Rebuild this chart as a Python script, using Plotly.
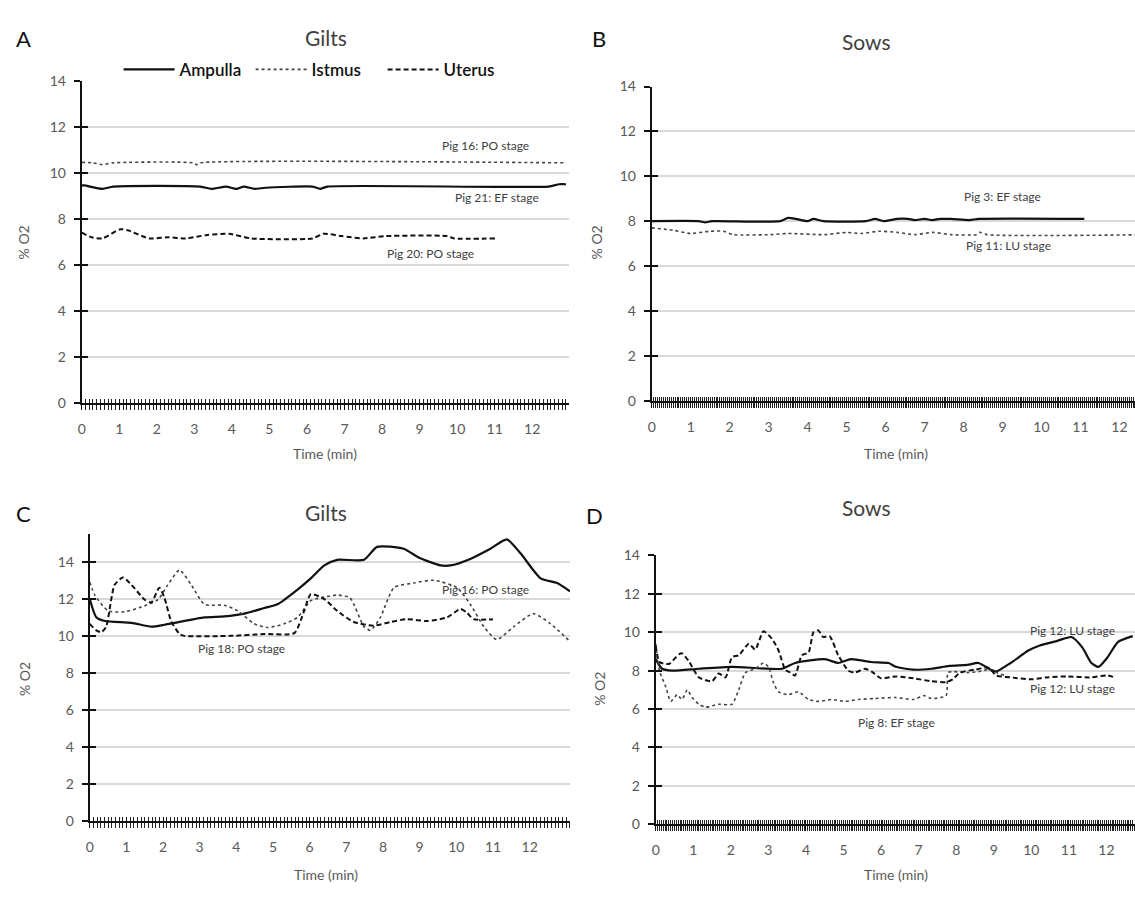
import plotly.graph_objects as go

# ---------------- data (time in min, % O2) ----------------
# A - Gilts
a_amp_t = [0, 0.07, 0.55, 0.84, 3.16, 3.45, 3.84, 4.12, 4.32, 4.6, 4.9, 6.15, 6.35, 6.54, 12.43, 12.72, 12.9]
a_amp_v = [9.45, 9.45, 9.3, 9.4, 9.4, 9.3, 9.4, 9.3, 9.4, 9.3, 9.35, 9.4, 9.3, 9.4, 9.4, 9.5, 9.5]
a_ist_t = [0, 0.3, 0.55, 0.84, 2.97, 3.06, 3.16, 12.9]
a_ist_v = [10.45, 10.43, 10.35, 10.43, 10.43, 10.35, 10.43, 10.43]
a_ute_t = [0, 0.26, 0.55, 1.03, 1.23, 1.8, 2.29, 2.77, 3.35, 3.93, 4.51, 6.15, 6.44, 6.93, 7.5, 8.09, 9.73, 9.92, 11.03]
a_ute_v = [7.4, 7.2, 7.15, 7.55, 7.5, 7.15, 7.2, 7.15, 7.3, 7.35, 7.15, 7.15, 7.35, 7.25, 7.15, 7.25, 7.25, 7.15, 7.15]

# B - Sows
b_amp_t = [0, 1.2, 1.37, 1.55, 3.3, 3.5, 3.7, 4.0, 4.15, 4.4, 5.5, 5.73, 5.95, 6.3, 6.57, 6.75, 7.0, 7.2, 7.4, 7.68, 8.15, 8.4, 11.1]
b_amp_v = [8.0, 8.0, 7.95, 8.0, 8.0, 8.15, 8.1, 8.0, 8.1, 8.0, 8.0, 8.1, 8.0, 8.1, 8.1, 8.05, 8.1, 8.05, 8.1, 8.1, 8.05, 8.1, 8.1]
b_ist_t = [0, 0.54, 1.0, 1.47, 1.84, 2.1, 3.04, 3.5, 4.43, 5.0, 5.36, 5.83, 6.3, 6.75, 7.2, 7.68, 8.33, 8.42, 8.6, 12.9]
b_ist_v = [7.7, 7.6, 7.45, 7.55, 7.55, 7.4, 7.4, 7.45, 7.4, 7.5, 7.45, 7.55, 7.5, 7.4, 7.5, 7.4, 7.4, 7.5, 7.4, 7.4]

# C - Gilts
c_amp_t = [0, 0.18, 0.41, 1.14, 1.68, 2.04, 2.31, 3.13, 3.67, 4.22, 4.76, 5.12, 5.67, 6.03, 6.4, 6.75, 7.48, 7.84,
           8.56, 9.0, 9.57, 9.84, 10.38, 10.93, 11.38, 11.75, 12.3, 12.75, 13.1]
c_amp_v = [12.0, 11.0, 10.8, 10.7, 10.5, 10.6, 10.7, 11.0, 11.05, 11.2, 11.5, 11.7, 12.5, 13.1, 13.8, 14.1, 14.1, 14.8,
           14.7, 14.2, 13.8, 13.8, 14.15, 14.7, 15.2, 14.45, 13.1, 12.85, 12.4]
c_ist_t = [0, 0.14, 0.5, 0.95, 1.4, 1.86, 2.13, 2.45, 2.77, 3.13, 3.67, 4.04, 4.49, 4.85, 5.3, 5.67, 6.03, 6.3, 6.75,
           7.1, 7.48, 7.66, 7.93, 8.3, 8.84, 9.39, 10.02, 10.38, 10.75, 11.1, 11.57, 12.1, 12.57, 13.1]
c_ist_v = [12.9, 12.2, 11.35, 11.3, 11.55, 11.95, 12.75, 13.55, 12.75, 11.7, 11.65, 11.35, 10.65, 10.45, 10.65, 11.0,
           11.9, 12.05, 12.2, 12.05, 10.5, 10.3, 11.0, 12.6, 12.85, 13.0, 12.6, 11.7, 10.5, 9.8, 10.5, 11.2, 10.65, 9.7]
c_ute_t = [0, 0.18, 0.32, 0.45, 0.68, 0.91, 1.14, 1.5, 1.68, 1.9, 2.04, 2.22, 2.45, 2.58, 3.85, 4.76, 5.58, 5.85, 6.03,
           6.39, 6.75, 7.2, 7.75, 8.2, 8.66, 9.2, 9.75, 10.11, 10.29, 10.47, 11.0]
c_ute_v = [10.65, 10.3, 10.2, 10.5, 12.75, 13.15, 12.75, 11.95, 11.8, 12.6, 12.05, 10.8, 10.1, 10.0, 10.0, 10.1, 10.15,
           11.35, 12.25, 12.0, 11.35, 10.75, 10.55, 10.75, 10.9, 10.8, 11.0, 11.45, 11.25, 10.9, 10.9]

# D - Sows
d_amp_t = [0, 0.17, 0.44, 1.15, 2.03, 3.36, 3.71, 4.5, 4.86, 5.2, 5.73, 6.2, 6.39, 6.86, 7.34, 7.82, 8.3, 8.59, 8.92,
           9.06, 9.45, 9.92, 10.21, 10.69, 11.07, 11.36, 11.6, 11.79, 12.03, 12.31, 12.7]
d_amp_v = [8.6, 8.1, 8.0, 8.1, 8.2, 8.1, 8.4, 8.6, 8.4, 8.6, 8.45, 8.4, 8.2, 8.05, 8.1, 8.25, 8.3, 8.4, 8.05, 7.95,
           8.4, 9.05, 9.3, 9.55, 9.75, 9.2, 8.4, 8.2, 8.7, 9.5, 9.8]
d_ist_t = [0, 0.1, 0.27, 0.4, 0.57, 0.7, 0.84, 0.97, 1.15, 1.33, 1.68, 2.03, 2.21, 2.39, 2.65, 2.87, 3.0, 3.14, 3.27,
           3.53, 3.8, 4.07, 4.33, 4.68, 5.04, 5.4, 5.84, 6.39, 6.86, 7.15, 7.34, 7.73, 7.78, 7.91, 8.3, 8.59, 8.87,
           9.06, 9.3]
d_ist_v = [9.4, 8.0, 7.15, 6.4, 6.75, 6.5, 7.0, 6.6, 6.25, 6.1, 6.25, 6.25, 7.0, 7.9, 8.1, 8.4, 8.2, 7.35, 6.9, 6.75,
           6.9, 6.5, 6.4, 6.5, 6.4, 6.5, 6.55, 6.6, 6.5, 6.7, 6.55, 6.7, 7.9, 7.95, 7.9, 7.95, 8.05, 7.9, 7.75]
d_ute_t = [0, 0.1, 0.35, 0.62, 0.7, 0.88, 1.15, 1.5, 1.68, 1.86, 2.03, 2.21, 2.48, 2.65, 2.87, 3.1, 3.27, 3.45, 3.58,
           3.71, 3.89, 4.07, 4.2, 4.33, 4.46, 4.63, 4.86, 5.13, 5.3, 5.57, 5.75, 6.0, 6.39, 6.86, 7.34, 7.73, 7.91,
           8.1, 8.49, 8.87, 9.06, 9.45, 10.02, 10.4, 10.97, 11.55, 12.03, 12.22]
d_ute_v = [9.3, 8.45, 8.35, 8.85, 8.9, 8.5, 7.65, 7.45, 7.85, 7.65, 8.7, 8.8, 9.4, 9.1, 10.05, 9.65, 9.05, 8.05, 7.9,
           7.75, 8.8, 8.95, 10.0, 10.1, 9.75, 9.8, 8.8, 8.0, 7.9, 8.1, 7.95, 7.6, 7.7, 7.6, 7.45, 7.4, 7.55, 7.9,
           8.05, 8.15, 7.75, 7.65, 7.55, 7.65, 7.7, 7.65, 7.75, 7.65]

x_ticks = list(range(13))
y_ticks = list(range(0, 15, 2))
series_names = ["Ampulla", "Istmus", "Uterus"]

# pig / stage labels: (panel, time, %O2, text)
pig_labels = [
    (1, 10.75, 11.2, "Pig 16: PO stage"),
    (1, 11.05, 8.93, "Pig 21: EF stage"),
    (1, 9.3, 6.48, "Pig 20: PO stage"),
    (2, 9.0, 9.1, "Pig 3: EF stage"),
    (2, 9.15, 6.9, "Pig 11: LU stage"),
    (3, 10.26, 15.6, "Pig 23: PO stage"),
    (3, 10.8, 12.5, "Pig 16: PO stage"),
    (3, 4.13, 9.3, "Pig 18: PO stage"),
    (4, 11.1, 10.1, "Pig 12: LU stage"),
    (4, 11.1, 7.05, "Pig 12: LU stage"),
    (4, 6.42, 5.3, "Pig 8: EF stage"),
]

# ---------------- layout geometry ----------------
W, H = 1135, 898
FONT = "Lato"
TICK_GREY = "#595959"

# pixel frame of each panel: left, right, y of 0, y of top, x max, y max, minor tick step
panels = [
    dict(l=78, r=567, b=401.7, t=73, xmax=12.98, ymax=14, minor=0.1),
    dict(l=650, r=W, b=399.3, t=79, xmax=12.4, ymax=14, minor=0.05),
    dict(l=86, r=568, b=828, t=535, xmax=13.1, ymax=15.5, minor=0.1),
    dict(l=654, r=W, b=831, t=557, xmax=12.76, ymax=14, minor=0.05),
]

panel_series = [
    [(a_amp_t, a_amp_v), (a_ist_t, a_ist_v), (a_ute_t, a_ute_v)],
    [(b_amp_t, b_amp_v), (b_ist_t, b_ist_v)],
    [(c_amp_t, c_amp_v), (c_ist_t, c_ist_v), (c_ute_t, c_ute_v)],
    [(d_amp_t, d_amp_v), (d_ist_t, d_ist_v), (d_ute_t, d_ute_v)],
]

line_styles = [
    dict(color="#111111", width=2.2, dash="solid"),
    dict(color="#444444", width=1.6, dash="dot"),
    dict(color="#111111", width=2.0, dash="5px,3px"),
]

fig = go.Figure()
layout = dict(
    width=W, height=H,
    margin=dict(l=0, r=0, t=0, b=0),
    paper_bgcolor="white", plot_bgcolor="white",
    font=dict(family=FONT, color="#404040"),
    showlegend=True,
    legend=dict(orientation="h", x=115 / W, y=1 - 62 / H, xanchor="left", yanchor="middle",
                font=dict(family=FONT, size=17, color="#111111", weight=600),
                itemwidth=51, entrywidth=66, entrywidthmode="pixels",
                bgcolor="rgba(0,0,0,0)", tracegroupgap=0),
)

for i, (p, series) in enumerate(zip(panels, panel_series), start=1):
    xd = [p["l"] / W, p["r"] / W]
    yd = [1 - p["b"] / H, 1 - p["t"] / H]
    xs, ys = ("" if i == 1 else str(i)), ("" if i == 1 else str(i))
    xo, yo = str(i + 4), str(i + 4)

    for k, (t, v) in enumerate(series):
        fig.add_trace(go.Scatter(
            x=t, y=v, mode="lines", name=series_names[k],
            line=dict(shape="spline", smoothing=0.6, **line_styles[k]),
            xaxis="x" + xs, yaxis="y" + ys,
            showlegend=(i == 1), hoverinfo="skip"))
    # carrier for the inner half of the crossing tick marks
    fig.add_trace(go.Scatter(x=[None], y=[None], xaxis="x" + xo, yaxis="y" + yo,
                             showlegend=False, hoverinfo="skip"))

    common_x = dict(range=[0, p["xmax"]], tickvals=x_ticks, ticktext=[str(v) for v in x_ticks],
                    zeroline=False, showgrid=False, fixedrange=True)
    common_y = dict(range=[0, p["ymax"]], tickvals=y_ticks, zeroline=False, fixedrange=True)

    layout["xaxis" + xs] = dict(
        domain=xd, anchor="y" + ys, showline=True, linecolor="#111111", linewidth=2,
        ticks="outside", ticklen=5, tickwidth=1.2, tickcolor="#111111",
        minor=dict(dtick=p["minor"], tick0=0, ticks="outside", ticklen=5, tickwidth=1, tickcolor="#222222"),
        tickfont=dict(family=FONT, size=14, color=TICK_GREY), ticklabelstandoff=7, **common_x)
    layout["yaxis" + ys] = dict(
        domain=yd, anchor="x" + xs, showline=True, linecolor="#111111", linewidth=2,
        ticks="outside", ticklen=6, tickwidth=2, tickcolor="#111111",
        showgrid=True, gridcolor="#d9d9d9", gridwidth=1.6,
        tickfont=dict(family=FONT, size=14, color=TICK_GREY), ticklabelstandoff=5, **common_y)
    layout["xaxis" + xo] = dict(
        overlaying="x" + xs, anchor="y" + yo, showline=False, showticklabels=False,
        ticks="inside", ticklen=4, tickwidth=1.2, tickcolor="#111111",
        minor=dict(dtick=p["minor"], tick0=0, ticks="inside", ticklen=4, tickwidth=1, tickcolor="#222222"),
        **common_x)
    layout["yaxis" + yo] = dict(
        overlaying="y" + ys, anchor="x" + xo, showline=False, showticklabels=False, showgrid=False,
        ticks="inside", ticklen=6, tickwidth=2, tickcolor="#111111", **common_y)

annotations = []

def paper_text(xp, yp, text, size, color="#404040", angle=0):
    annotations.append(dict(x=xp / W, y=1 - yp / H, xref="paper", yref="paper", text=text,
                            showarrow=False, textangle=angle, xanchor="center", yanchor="middle",
                            font=dict(family=FONT, size=size, color=color)))

# panel titles and letters
paper_text(323, 29, "Gilts", 21)
paper_text(866, 33, "Sows", 21)
paper_text(323, 513, "Gilts", 21)
paper_text(866, 508, "Sows", 21)
paper_text(20, 30, "A", 22, "#111111")
paper_text(597, 30, "B", 22, "#111111")
paper_text(20, 514, "C", 22, "#111111")
paper_text(593, 516, "D", 22, "#111111")

# axis titles
paper_text(20, 238, "% O2", 14, TICK_GREY, -90)
paper_text(595, 238, "% O2", 14, TICK_GREY, -90)
paper_text(20, 683, "% O2", 14, TICK_GREY, -90)
paper_text(598, 693, "% O2", 14, TICK_GREY, -90)
paper_text(322, 453, "Time (min)", 14, TICK_GREY)
paper_text(895, 453, "Time (min)", 14, TICK_GREY)
paper_text(323, 882, "Time (min)", 14, TICK_GREY)
paper_text(895, 882, "Time (min)", 14, TICK_GREY)

for panel, t, v, text in pig_labels:
    suffix = "" if panel == 1 else str(panel)
    annotations.append(dict(x=t, y=v, xref="x" + suffix, yref="y" + suffix, text=text, showarrow=False,
                            xanchor="center", yanchor="middle",
                            font=dict(family=FONT, size=12, color="#404040")))

layout["annotations"] = annotations
fig.update_layout(**layout)
fig.write_html("out.html")
